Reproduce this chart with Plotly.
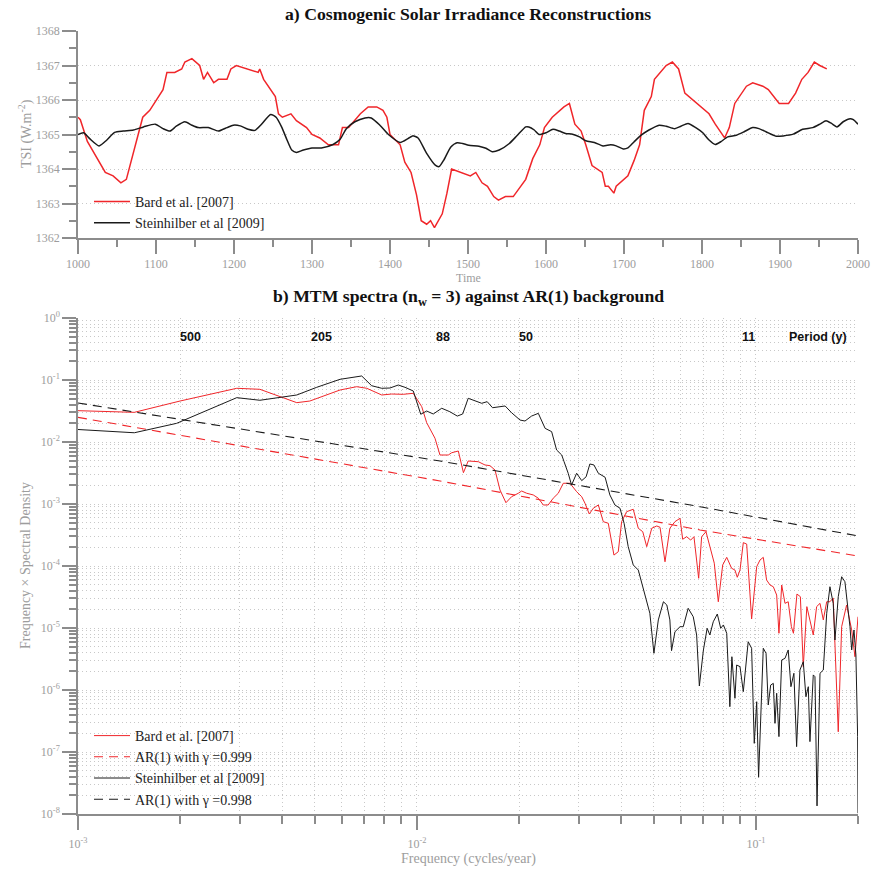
import numpy as np
import plotly.graph_objects as go

# ---------------- data: panel a ----------------
bard_years = [1000, 1003, 1012, 1035, 1045, 1055, 1062, 1071, 1083, 1092,
              1109, 1114, 1124, 1133, 1137, 1146, 1156, 1161, 1166, 1174,
              1180, 1191, 1196, 1203, 1216, 1231, 1233, 1238, 1253, 1257,
              1262, 1273, 1280, 1293, 1300, 1310, 1321, 1334, 1339, 1347,
              1362, 1372, 1383, 1391, 1396, 1400, 1413, 1419, 1427, 1434,
              1440, 1447, 1452, 1457, 1467, 1473, 1479, 1503, 1510, 1518,
              1525, 1533, 1539, 1548, 1558, 1574, 1583, 1592, 1598, 1608,
              1623, 1630, 1637, 1645, 1651, 1659, 1672, 1676, 1680, 1687,
              1690, 1705, 1713, 1720, 1726, 1735, 1739, 1754, 1762, 1770,
              1778, 1788, 1809, 1817, 1829, 1835, 1842, 1857, 1865, 1878,
              1885, 1899, 1911, 1920, 1928, 1936, 1944, 1951, 1960]
bard_tsi = [1365.5, 1365.43, 1364.8, 1363.9, 1363.8, 1363.6, 1363.7, 1364.45, 1365.5, 1365.7,
            1366.3, 1366.8, 1366.8, 1366.9, 1367.1, 1367.2, 1367.0, 1366.6, 1366.8, 1366.5,
            1366.6, 1366.6, 1366.9, 1367.0, 1366.9, 1366.8, 1366.9, 1366.6, 1366.1, 1365.6,
            1365.5, 1365.6, 1365.4, 1365.2, 1365.0, 1364.9, 1364.7, 1364.7, 1365.2, 1365.2,
            1365.6, 1365.8, 1365.8, 1365.7, 1365.5, 1365.0, 1364.7, 1364.2, 1363.9, 1363.25,
            1362.5, 1362.4, 1362.5, 1362.3, 1362.7, 1363.3, 1364.0, 1363.8, 1363.9, 1363.6,
            1363.5, 1363.2, 1363.1, 1363.2, 1363.2, 1363.7, 1364.3, 1364.7, 1365.2, 1365.5,
            1365.8, 1365.9, 1365.3, 1365.1, 1364.7, 1364.1, 1363.9, 1363.5, 1363.5, 1363.3,
            1363.5, 1363.8, 1364.25, 1364.7, 1365.7, 1366.1, 1366.6, 1367.0, 1367.1, 1366.9,
            1366.2, 1366.0, 1365.6, 1365.3, 1364.9, 1365.2, 1365.9, 1366.4, 1366.5, 1366.4,
            1366.3, 1365.9, 1365.9, 1366.2, 1366.6, 1366.8, 1367.1, 1367.0, 1366.9]

stein_years = [1000, 1007, 1015, 1027, 1037, 1047, 1058, 1071, 1084, 1099,
               1109, 1118, 1126, 1137, 1146, 1154, 1167, 1180, 1191, 1199,
               1208, 1218, 1227, 1235, 1247, 1254, 1261, 1268, 1274, 1280,
               1289, 1300, 1312, 1327, 1336, 1344, 1355, 1368, 1376, 1387,
               1398, 1413, 1423, 1429, 1436, 1447, 1458, 1463, 1469, 1478,
               1486, 1493, 1501, 1514, 1523, 1531, 1540, 1553, 1563, 1574,
               1578, 1585, 1591, 1600, 1609, 1617, 1625, 1634, 1643, 1651,
               1662, 1673, 1683, 1690, 1699, 1705, 1713, 1722, 1732, 1745,
               1754, 1765, 1773, 1782, 1792, 1801, 1809, 1817, 1824, 1833,
               1844, 1854, 1865, 1873, 1882, 1895, 1904, 1917, 1929, 1942,
               1951, 1959, 1966, 1973, 1981, 1990, 1994, 2000]
stein_tsi = [1365.0, 1365.05, 1364.88, 1364.67, 1364.84, 1365.06, 1365.1, 1365.13, 1365.22, 1365.3,
             1365.17, 1365.1, 1365.24, 1365.37, 1365.27, 1365.2, 1365.2, 1365.1, 1365.2, 1365.27,
             1365.25, 1365.15, 1365.12, 1365.29, 1365.58, 1365.5, 1365.22, 1364.84, 1364.55, 1364.48,
             1364.55, 1364.61, 1364.61, 1364.71, 1364.86, 1365.17, 1365.37, 1365.48, 1365.48, 1365.27,
             1365.0, 1364.77, 1364.88, 1364.96, 1364.9, 1364.45, 1364.11, 1364.07, 1364.26, 1364.64,
             1364.76, 1364.74, 1364.69, 1364.66, 1364.6, 1364.5, 1364.55, 1364.74, 1364.97, 1365.22,
             1365.22, 1365.13, 1365.0, 1365.05, 1365.15, 1365.1, 1365.03, 1365.01, 1364.93, 1364.82,
             1364.77, 1364.67, 1364.7, 1364.67, 1364.58, 1364.61, 1364.79, 1364.98, 1365.13, 1365.27,
             1365.24, 1365.17, 1365.24, 1365.32, 1365.2, 1365.05, 1364.84, 1364.71, 1364.79, 1364.93,
             1364.98, 1365.08, 1365.2, 1365.17, 1365.08, 1364.95, 1364.96, 1365.01, 1365.15, 1365.2,
             1365.3, 1365.4, 1365.32, 1365.22, 1365.37, 1365.46, 1365.43, 1365.3]

time_ticks = [1000, 1100, 1200, 1300, 1400, 1500, 1600, 1700, 1800, 1900, 2000]
tsi_ticks = [1362, 1363, 1364, 1365, 1366, 1367, 1368]

# ---------------- data: panel b ----------------
stein_freq = [0.001, 0.001466, 0.001954, 0.002399, 0.00294, 0.00344, 0.00442, 0.00506, 0.00593, 0.00687,
              0.00735, 0.00787, 0.00832, 0.00881, 0.00922, 0.00975, 0.01026, 0.01068, 0.01117, 0.01183,
              0.0125, 0.01315, 0.01364, 0.01416, 0.01483, 0.01552, 0.01611, 0.01671, 0.0182, 0.01901,
              0.02014, 0.02083, 0.02178, 0.0228, 0.02388, 0.02496, 0.02582, 0.02673, 0.02716, 0.02793,
              0.02858, 0.02958, 0.03062, 0.03155, 0.03236, 0.03327, 0.03428, 0.03589, 0.03707, 0.03837,
              0.03972, 0.04083, 0.04199, 0.04345, 0.04497, 0.04656, 0.04864, 0.05, 0.05152, 0.05333,
              0.05458, 0.05572, 0.05636, 0.05768, 0.05971, 0.06103, 0.0631, 0.06531, 0.06683, 0.06808,
              0.06998, 0.07178, 0.07311, 0.07482, 0.07691, 0.07871, 0.08015, 0.08199, 0.08375, 0.08492,
              0.0867, 0.08771, 0.08973, 0.09176, 0.09487, 0.09709, 0.09885, 0.1005, 0.1018, 0.1051,
              0.1071, 0.1087, 0.1105, 0.1125, 0.1138, 0.1151, 0.1169, 0.1191, 0.1218, 0.1245,
              0.1268, 0.1294, 0.1318, 0.1348, 0.1379, 0.1404, 0.1427, 0.1443, 0.1476, 0.1493,
              0.1514, 0.1545, 0.158, 0.1617, 0.1653, 0.169, 0.171, 0.1749, 0.179, 0.183,
              0.1858, 0.1894, 0.1916, 0.1946, 0.1972, 0.1995, 0.2]
stein_psd = [0.0159, 0.0141, 0.020, 0.032, 0.0519, 0.0471, 0.0573, 0.0762, 0.1026, 0.1161,
             0.0809, 0.0735, 0.0743, 0.083, 0.0762, 0.0665, 0.028, 0.0316, 0.0283, 0.035,
             0.0308, 0.0262, 0.0283, 0.0507, 0.0463, 0.0421, 0.0447, 0.0357, 0.0381, 0.0297,
             0.0226, 0.0218, 0.0262, 0.029, 0.0166, 0.0147, 0.00743, 0.00617, 0.00481, 0.00313,
             0.00202, 0.00313, 0.00238, 0.00275, 0.00442, 0.00426, 0.00313, 0.0027, 0.0014, 9.64e-4,
             8.53e-4, 4.89e-4, 2.05e-4, 1.04e-4, 8.6e-5, 4.37e-5, 1.73e-5, 3.91e-6, 1.35e-5, 2.65e-5,
             2.35e-5, 1.35e-5, 4.31e-6, 8.71e-6, 1.05e-5, 1.05e-5, 2.08e-5, 1.52e-5, 7.71e-6, 1.16e-6,
             4.42e-6, 9.89e-6, 7.71e-6, 1.26e-5, 1.68e-5, 9.89e-6, 1.12e-5, 8.22e-6, 5.38e-7, 3.44e-6,
             7.35e-7, 2.53e-6, 2.38e-6, 9.4e-7, 6.01e-6, 4.71e-6, 1.38e-7, 6.47e-7, 3.91e-8, 4.71e-6,
             3.91e-6, 5.73e-7, 1.2e-6, 1.28e-6, 2.9e-7, 8.85e-7, 1.77e-7, 3.05e-6, 3.24e-6, 4.42e-6,
             1.13e-6, 1.86e-6, 1.22e-7, 2.1e-6, 2.86e-6, 7.8e-7, 1.13e-6, 1.47e-7, 1.75e-6, 1.64e-6,
             1.35e-8, 1.86e-6, 2.1e-6, 1.73e-5, 4.63e-5, 2.5e-5, 6.4e-6, 3.2e-5, 6.71e-5, 5.58e-5,
             2.65e-5, 1.05e-5, 4.42e-6, 9.29e-6, 3.67e-6, 1.77e-7, 1.03e-8]

bard_freq = [0.001, 0.001466, 0.002, 0.00294, 0.00344, 0.00442, 0.00483, 0.00593, 0.00664, 0.00711,
             0.00787, 0.00842, 0.00911, 0.00975, 0.01033, 0.01068, 0.0113, 0.01169, 0.01237, 0.01266,
             0.01324, 0.01371, 0.01416, 0.01517, 0.01587, 0.01642, 0.01699, 0.01758, 0.0183, 0.01901,
             0.0199, 0.02036, 0.02107, 0.02203, 0.0228, 0.02359, 0.02438, 0.02523, 0.02611, 0.02702,
             0.02827, 0.02958, 0.03062, 0.0313, 0.03223, 0.03312, 0.03428, 0.03545, 0.03667, 0.03811,
             0.03925, 0.04016, 0.04155, 0.04345, 0.04497, 0.04635, 0.04762, 0.04927, 0.05097, 0.05212,
             0.05391, 0.05572, 0.05768, 0.05971, 0.06079, 0.06246, 0.06418, 0.06563, 0.06776, 0.06915,
             0.07121, 0.07311, 0.07534, 0.07743, 0.07978, 0.08199, 0.08477, 0.0867, 0.08808, 0.08973,
             0.09176, 0.09389, 0.09709, 0.1005, 0.1028, 0.1051, 0.1075, 0.11, 0.1125, 0.1151,
             0.1169, 0.1191, 0.1218, 0.1245, 0.1272, 0.129, 0.1321, 0.1352, 0.1379, 0.1413,
             0.1448, 0.1476, 0.151, 0.1545, 0.158, 0.1617, 0.1653, 0.169, 0.1749, 0.179,
             0.1851, 0.1916, 0.1959, 0.2]
bard_psd = [0.032, 0.0301, 0.0458, 0.0735, 0.0708, 0.0431, 0.0458, 0.069, 0.078, 0.0735,
            0.0573, 0.0594, 0.0588, 0.061, 0.0371, 0.0205, 0.0115, 0.00617, 0.00617, 0.00671,
            0.00716, 0.0032, 0.00494, 0.00481, 0.00426, 0.00415, 0.00353, 0.00168, 0.00105, 0.00131,
            0.00149, 0.00162, 0.00149, 0.0014, 0.00124, 9.64e-4, 9.64e-4, 0.00124, 0.00149, 0.00216,
            0.00216, 0.00158, 0.00131, 0.00103, 6.9e-4, 8.53e-4, 9.64e-4, 5.19e-4, 4.89e-4, 1.5e-4,
            1.7e-4, 5.19e-4, 7.52e-4, 8.22e-4, 4.06e-4, 3.57e-4, 2.05e-4, 4.06e-4, 4.42e-4, 4.21e-4,
            1.17e-4, 4.06e-4, 5.19e-4, 5.88e-4, 2.7e-4, 2.97e-4, 2.62e-4, 2.97e-4, 6.34e-5, 2.97e-4,
            3.57e-4, 2.05e-4, 1.11e-4, 2.65e-5, 1.04e-4, 1.38e-4, 9.18e-5, 8.6e-5, 6.58e-5, 8.6e-5,
            2.38e-4, 2.26e-4, 1.4e-5, 9.75e-5, 1.25e-4, 1.38e-4, 5.94e-5, 4.94e-5, 4.63e-5, 3.4e-5,
            8.22e-6, 4.94e-5, 2.5e-5, 2.65e-5, 1.05e-5, 8.22e-6, 3.53e-5, 3.2e-5, 2.38e-6, 2.21e-5,
            1.19e-5, 7.71e-6, 2.21e-5, 2.5e-5, 1.35e-5, 2.65e-5, 2.65e-5, 3.05e-5, 2.12e-7, 1.05e-5,
            2.35e-5, 9.29e-6, 3.44e-6, 1.52e-5]

ar_freq = [0.001, 0.0117, 0.0684, 0.2]
ar_bard = [0.025, 0.00235, 3.81e-4, 1.45e-4]
ar_stein = [0.0426, 0.00494, 9.04e-4, 3.05e-4]

period_labels = ["500", "205", "88", "50", "11"]
period_years = [500, 205, 88, 50, 11]
period_word_freq = 0.125
period_label_level = 0.5

freq_ticks = [1e-3, 1e-2, 1e-1]
freq_ticktext = ["10<sup>-3</sup>", "10<sup>-2</sup>", "10<sup>-1</sup>"]
psd_ticks = [1e-8, 1e-7, 1e-6, 1e-5, 1e-4, 1e-3, 1e-2, 1e-1, 1e0]
psd_ticktext = ["10<sup>-8</sup>", "10<sup>-7</sup>", "10<sup>-6</sup>", "10<sup>-5</sup>",
                "10<sup>-4</sup>", "10<sup>-3</sup>", "10<sup>-2</sup>", "10<sup>-1</sup>",
                "10<sup>0</sup>"]

# ---------------- styling ----------------
W, H = 871, 869
RED = "#f0262a"
BLK = "#1a1a1a"
AX = "#8c8c8c"
TICKC = "#9d9d9d"
GRID = "#c8c8c8"
SERIF = "Liberation Serif"
SANS = "Liberation Sans"
GDASH = "1px,3px"

freq_minor = [m * 10.0 ** e for e in (-3, -2, -1) for m in range(2, 10) if m * 10.0 ** e <= 0.2001]
psd_minor = [m * 10.0 ** e for e in range(-8, 0) for m in range(2, 10)]
time_minor = [t + 50 for t in time_ticks[:-1]]

fig = go.Figure()

fig.add_trace(go.Scatter(x=bard_years, y=bard_tsi, mode="lines", name="Bard et al. [2007]",
                         line=dict(color=RED, width=1.5), xaxis="x", yaxis="y", legend="legend"))
fig.add_trace(go.Scatter(x=stein_years, y=stein_tsi, mode="lines", name="Steinhilber et al [2009]",
                         line=dict(color=BLK, width=1.5, shape="spline", smoothing=0.6),
                         xaxis="x", yaxis="y", legend="legend"))

fig.add_trace(go.Scatter(x=bard_freq, y=bard_psd, mode="lines", name="Bard et al. [2007]",
                         line=dict(color=RED, width=1), xaxis="x2", yaxis="y2", legend="legend2"))
fig.add_trace(go.Scatter(x=ar_freq, y=ar_bard, mode="lines", name="AR(1) with \u03b3 =0.999",
                         line=dict(color=RED, width=1.1, dash="9px,6px"), xaxis="x2", yaxis="y2",
                         legend="legend2"))
fig.add_trace(go.Scatter(x=stein_freq, y=stein_psd, mode="lines", name="Steinhilber et al [2009]",
                         line=dict(color=BLK, width=1), xaxis="x2", yaxis="y2", legend="legend2"))
fig.add_trace(go.Scatter(x=ar_freq, y=ar_stein, mode="lines", name="AR(1) with \u03b3 =0.998",
                         line=dict(color=BLK, width=1.1, dash="9px,6px"), xaxis="x2", yaxis="y2",
                         legend="legend2"))

tickfont = dict(family=SERIF, size=12, color=TICKC)
xdom = [78 / W, 858 / W]

annotations = [
    dict(text="<b>a) Cosmogenic Solar Irradiance Reconstructions</b>", x=468 / W, y=1 - 14 / H,
         xref="paper", yref="paper", showarrow=False, xanchor="center", yanchor="middle",
         font=dict(family=SERIF, size=17.7, color="#111")),
    dict(text="<b>b) MTM spectra (n<sub>w</sub> = 3) against AR(1) background</b>", x=468 / W,
         y=1 - 297 / H, xref="paper", yref="paper", showarrow=False, xanchor="center",
         yanchor="middle", font=dict(family=SERIF, size=17.7, color="#111")),
    dict(text="TSI (W.m<sup>-2</sup>)", x=25 / W, y=1 - 134 / H, xref="paper", yref="paper",
         showarrow=False, textangle=-90, xanchor="center", yanchor="middle",
         font=dict(family=SERIF, size=14, color=TICKC)),
    dict(text="Time", x=468 / W, y=1 - 278 / H, xref="paper", yref="paper", showarrow=False,
         xanchor="center", yanchor="middle", font=dict(family=SERIF, size=12, color=TICKC)),
    dict(text="Frequency \u00d7 Spectral Density", x=25 / W, y=1 - 566 / H, xref="paper",
         yref="paper", showarrow=False, textangle=-90, xanchor="center", yanchor="middle",
         font=dict(family=SERIF, size=14, color=TICKC)),
    dict(text="Frequency (cycles/year)", x=468 / W, y=1 - 859 / H, xref="paper", yref="paper",
         showarrow=False, xanchor="center", yanchor="middle",
         font=dict(family=SERIF, size=14, color=TICKC)),
]
for lab, per in zip(period_labels, period_years):
    annotations.append(dict(text="<b>%s</b>" % lab, x=float(np.log10(1.0 / per)),
                            y=float(np.log10(period_label_level)), xref="x2", yref="y2",
                            showarrow=False, xanchor="left", yanchor="middle", xshift=-2,
                            font=dict(family=SANS, size=12.5, color="#111")))
annotations.append(dict(text="<b>Period (y)</b>", x=float(np.log10(period_word_freq)),
                        y=float(np.log10(period_label_level)), xref="x2", yref="y2",
                        showarrow=False, xanchor="left", yanchor="middle", xshift=-2,
                        font=dict(family=SANS, size=12.5, color="#111")))

fig.update_layout(
    width=W, height=H, autosize=False,
    margin=dict(l=0, r=0, t=0, b=0, pad=0),
    paper_bgcolor="white", plot_bgcolor="white",
    showlegend=True,
    xaxis=dict(domain=xdom, anchor="y", range=[1000, 2000], tickmode="array", automargin=False,
               tickvals=time_ticks, ticktext=[str(t) for t in time_ticks],
               ticks="outside", ticklen=14, tickwidth=1.5, tickcolor=AX,
               showline=True, linecolor=AX, linewidth=1.5, showgrid=False, zeroline=False,
               tickfont=tickfont, ticklabelstandoff=0,
               minor=dict(tickmode="array", tickvals=time_minor, ticks="outside", ticklen=7,
                          tickcolor=AX, showgrid=False)),
    yaxis=dict(domain=[1 - 238 / H, 1 - 31 / H], anchor="x", range=[1362, 1368], automargin=False,
               tickmode="array", tickvals=tsi_ticks, ticktext=[str(t) for t in tsi_ticks],
               ticks="outside", ticklen=14, tickwidth=1.5, tickcolor=AX,
               showline=True, linecolor=AX, linewidth=1.5,
               showgrid=True, gridcolor=GRID, griddash=GDASH, gridwidth=1, zeroline=False,
               tickfont=tickfont,
               minor=dict(dtick=0.5, ticks="outside", ticklen=7, tickcolor=AX, showgrid=False)),
    xaxis2=dict(domain=xdom, anchor="y2", type="log", range=[-3, float(np.log10(0.2))],
                automargin=False,
                tickmode="array", tickvals=freq_ticks, ticktext=freq_ticktext,
                ticks="outside", ticklen=14, tickwidth=1.5, tickcolor=AX,
                showline=True, linecolor=AX, linewidth=1.5,
                showgrid=True, gridcolor=GRID, griddash=GDASH, gridwidth=1, zeroline=False,
                tickfont=tickfont, ticklabelstandoff=4,
                minor=dict(tickmode="array", tickvals=freq_minor, ticks="outside", ticklen=8,
                           tickcolor=AX, showgrid=True, gridcolor=GRID, griddash=GDASH)),
    yaxis2=dict(domain=[1 - 814 / H, 1 - 318 / H], anchor="x2", type="log", range=[-8, 0],
                automargin=False,
                tickmode="array", tickvals=psd_ticks, ticktext=psd_ticktext,
                ticks="outside", ticklen=14, tickwidth=1.5, tickcolor=AX,
                showline=True, linecolor=AX, linewidth=1.5,
                showgrid=True, gridcolor=GRID, griddash=GDASH, gridwidth=1, zeroline=False,
                tickfont=tickfont,
                minor=dict(tickmode="array", tickvals=psd_minor, ticks="outside", ticklen=7,
                           tickcolor=AX, showgrid=True, gridcolor=GRID, griddash=GDASH)),
    legend=dict(x=89 / W, y=1 - 186 / H, xanchor="left", yanchor="top",
                bgcolor="rgba(0,0,0,0)", borderwidth=0, tracegroupgap=0, itemwidth=36,
                font=dict(family=SERIF, size=14, color="#222")),
    legend2=dict(x=89 / W, y=1 - 720 / H, xanchor="left", yanchor="top",
                 bgcolor="rgba(0,0,0,0)", borderwidth=0, tracegroupgap=0, itemwidth=36,
                 font=dict(family=SERIF, size=14, color="#222")),
    annotations=annotations,
)

fig.write_html("out.html")
